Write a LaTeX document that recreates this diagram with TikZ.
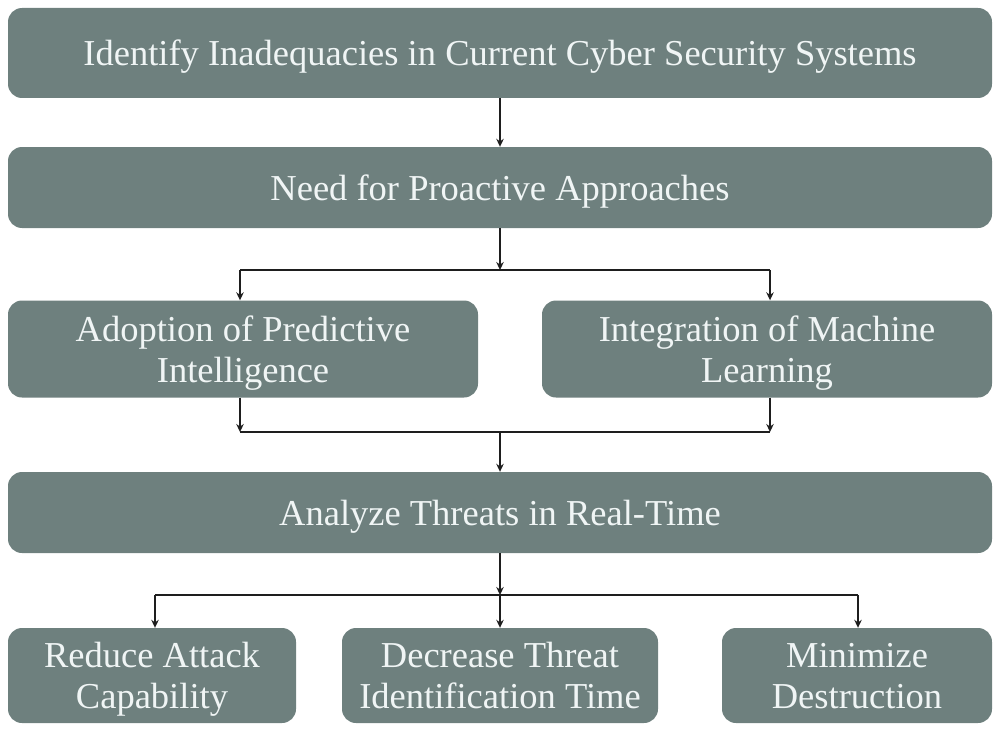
\documentclass[tikz,border=0pt]{standalone}
\usepackage{fontspec}
\setmainfont{Liberation Serif}
\usetikzlibrary{arrows.meta,calc}
\definecolor{boxfill}{RGB}{110,128,126}
\definecolor{boxtext}{RGB}{240,245,245}
\definecolor{linecol}{RGB}{30,30,30}
\begin{document}
\begin{tikzpicture}[x=1pt,y=-1pt,
  box/.style={draw=none,fill=boxfill,rounded corners=14pt,text=boxtext,align=center,
    font=\fontsize{36.5}{41}\selectfont,inner sep=0pt,text depth=0pt},
  conn/.style={draw=linecol,line width=1.7pt},
  arr/.style={conn,-{Stealth[length=8pt,width=7.5pt]}}]
\useasboundingbox (0,0) rectangle (1000,733);
\node[box,minimum width=984pt,minimum height=90pt] (b1) at (500,53) {Identify Inadequacies in Current Cyber Security Systems};
\node[box,minimum width=984pt,minimum height=81pt] (b2) at (500,187.5) {Need for Proactive Approaches};
\node[box,minimum width=470pt,minimum height=97pt] (b3l) at (243,349) {Adoption of Predictive\\Intelligence};
\node[box,minimum width=450pt,minimum height=97pt] (b3r) at (767,349) {Integration of Machine\\Learning};
\node[box,minimum width=984pt,minimum height=81pt] (b4) at (500,512.5) {Analyze Threats in Real-Time};
\node[box,minimum width=288pt,minimum height=95pt] (b5l) at (152,675.5) {Reduce Attack\\Capability};
\node[box,minimum width=316pt,minimum height=95pt] (b5m) at (500,675.5) {Decrease Threat\\Identification Time};
\node[box,minimum width=270pt,minimum height=95pt] (b5r) at (857,675.5) {Minimize\\Destruction};
\coordinate (j1) at (500,270);
\coordinate (j1l) at (240,270);
\coordinate (j1r) at (770,270);
\coordinate (j2) at (500,432);
\coordinate (j2l) at (240,432);
\coordinate (j2r) at (770,432);
\coordinate (j3) at (500,595);
\coordinate (j3l) at (155,595);
\coordinate (j3r) at (858,595);
\draw[arr] (b1.south) -- (b2.north);
\draw[arr] (b2.south) -- (j1);
\draw[conn] (j1l) -- (j1r);
\draw[arr] (j1l) -- (j1l |- b3l.north);
\draw[arr] (j1r) -- (j1r |- b3r.north);
\draw[arr] (j2l |- b3l.south) -- (j2l);
\draw[arr] (j2r |- b3r.south) -- (j2r);
\draw[conn] (j2l) -- (j2r);
\draw[arr] (j2) -- (b4.north);
\draw[arr] (b4.south) -- (j3);
\draw[conn] (j3l) -- (j3r);
\draw[arr] (j3l) -- (j3l |- b5l.north);
\draw[arr] (j3) -- (b5m.north);
\draw[arr] (j3r) -- (j3r |- b5r.north);
\end{tikzpicture}
\end{document}
